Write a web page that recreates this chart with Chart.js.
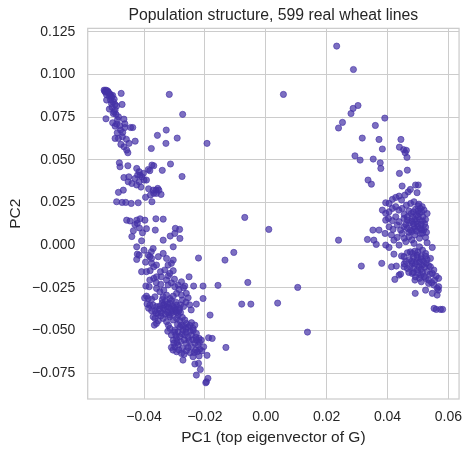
<!DOCTYPE html>
<html>
<head>
<meta charset="utf-8">
<script src="https://cdn.jsdelivr.net/npm/chart.js@4"></script>
<style>
  html, body { margin: 0; padding: 0; background: #fff; }
  #wrap { width: 472px; height: 456px; }
</style>
</head>
<body>
<div id="wrap"><canvas id="grafico" width="472" height="456"></canvas></div>
<script>
// PC1 / PC2 scores, in three groups
const leftPC1 = [
  -0.0531, -0.0525, -0.0520, -0.0527, -0.0516, -0.0512, -0.0503, -0.0523, -0.0506, -0.0475,
  -0.0523, -0.0510, -0.0501, -0.0495, -0.0472, -0.0514, -0.0505, -0.0495, -0.0501, -0.0525,
  -0.0492, -0.0484, -0.0466, -0.0503, -0.0490, -0.0495, -0.0463, -0.0477, -0.0463, -0.0444,
  -0.0437, -0.0488, -0.0495, -0.0484, -0.0471, -0.0449, -0.0429, -0.0466, -0.0457, -0.0453,
  -0.0481, -0.0479, -0.0453, -0.0424, -0.0416, -0.0421, -0.0413, -0.0402, -0.0386, -0.0381,
  -0.0407, -0.0400, -0.0416, -0.0424, -0.0466, -0.0452, -0.0440, -0.0468, -0.0484, -0.0490,
  -0.0472, -0.0442, -0.0419, -0.0392, -0.0374, -0.0368, -0.0370, -0.0361, -0.0355, -0.0351,
  -0.0368, -0.0359, -0.0379, -0.0374, -0.0344, -0.0457, -0.0446, -0.0424, -0.0413, -0.0397,
  -0.0435, -0.0422, -0.0405, -0.0392, -0.0363, -0.0361, -0.0337, -0.0408, -0.0424, -0.0370,
  -0.0376, -0.0381, -0.0386, -0.0422, -0.0416, -0.0424, -0.0408, -0.0392, -0.0337, -0.0314,
  -0.0283, -0.0297, -0.0299, -0.0282, -0.0304, -0.0353, -0.0337, -0.0326, -0.0375, -0.0368,
  -0.0359, -0.0321, -0.0310, -0.0304, -0.0346, -0.0332, -0.0315, -0.0304, -0.0381, -0.0368,
  -0.0359, -0.0343, -0.0394, -0.0383, -0.0326, -0.0321, -0.0310, -0.0299, -0.0288, -0.0277,
  -0.0266, -0.0252, -0.0237, -0.0206, -0.0359, -0.0348, -0.0335, -0.0392, -0.0386, -0.0375,
  -0.0364, -0.0337, -0.0326, -0.0315, -0.0304, -0.0293, -0.0277, -0.0261, -0.0255, -0.0274,
  -0.0228, -0.0206, -0.0381, -0.0370, -0.0359, -0.0348, -0.0337, -0.0326, -0.0375, -0.0364,
  -0.0353, -0.0343, -0.0332, -0.0315, -0.0304, -0.0293, -0.0283, -0.0299, -0.0310, -0.0288,
  -0.0364, -0.0353, -0.0337, -0.0326, -0.0366, -0.0359, -0.0315, -0.0304, -0.0293, -0.0283,
  -0.0274, -0.0266, -0.0277, -0.0261, -0.0244, -0.0233, -0.0255, -0.0239, -0.0315, -0.0299,
  -0.0288, -0.0272, -0.0310, -0.0304, -0.0293, -0.0283, -0.0266, -0.0255, -0.0244, -0.0228,
  -0.0219, -0.0299, -0.0288, -0.0274, -0.0261, -0.0244, -0.0233, -0.0223, -0.0212, -0.0293,
  -0.0277, -0.0261, -0.0248, -0.0230, -0.0217, -0.0204, -0.0272, -0.0239, -0.0219, -0.0193,
  -0.0233, -0.0221, -0.0215, -0.0228, -0.0190, -0.0195, -0.0197, -0.0375,
  -0.0529, -0.0518, -0.0510, -0.0514, -0.0498, -0.0507, -0.0490, -0.0498, -0.0487, -0.0480,
  -0.0470, -0.0458, -0.0476,
  -0.0450, -0.0430, -0.0410, -0.0385, -0.0395, -0.0460, -0.0430, -0.0415, -0.0440, -0.0400,
  -0.0395, -0.0380, -0.0360, -0.0345, -0.0320, -0.0300, -0.0285, -0.0270,
  -0.0340, -0.0335, -0.0330, -0.0322, -0.0318, -0.0312, -0.0308, -0.0300, -0.0296, -0.0292,
  -0.0285, -0.0280, -0.0318, -0.0322, -0.0330, -0.0345, -0.0350, -0.0360, -0.0370, -0.0385,
  -0.0390, -0.0398, -0.0340, -0.0310, -0.0295, -0.0280, -0.0270, -0.0262, -0.0250, -0.0245,
  -0.0290, -0.0282, -0.0270, -0.0262, -0.0250, -0.0248, -0.0238, -0.0230, -0.0240, -0.0252,
  -0.0268, -0.0280, -0.0292, -0.0302, -0.0310, -0.0305, -0.0285, -0.0268, -0.0255, -0.0235,
  -0.0225, -0.0210, -0.0218, -0.0228, -0.0262, -0.0275, -0.0295, -0.0300, -0.0322, -0.0320
];
const leftPC2 = [
  0.0908, 0.0908, 0.0904, 0.0896, 0.0893, 0.0885, 0.0877, 0.0881, 0.0869, 0.0889,
  0.0850, 0.0850, 0.0840, 0.0824, 0.0824, 0.0797, 0.0807, 0.0791, 0.0771, 0.0740,
  0.0766, 0.0752, 0.0738, 0.0717, 0.0709, 0.0697, 0.0711, 0.0674, 0.0689, 0.0689,
  0.0689, 0.0658, 0.0625, 0.0625, 0.0635, 0.0596, 0.0609, 0.0576, 0.0557, 0.0541,
  0.0482, 0.0459, 0.0465, 0.0449, 0.0430, 0.0410, 0.0410, 0.0420, 0.0443, 0.0436,
  0.0400, 0.0381, 0.0371, 0.0352, 0.0396, 0.0371, 0.0361, 0.0322, 0.0309, 0.0254,
  0.0250, 0.0244, 0.0248, 0.0381, 0.0469, 0.0465, 0.0322, 0.0322, 0.0332, 0.0322,
  0.0303, 0.0303, 0.0293, 0.0254, 0.0297, 0.0146, 0.0141, 0.0146, 0.0154, 0.0146,
  0.0084, 0.0127, 0.0072, 0.0096, 0.0088, 0.0154, 0.0152, 0.0025, -0.0010, -0.0020,
  -0.0039, -0.0068, -0.0059, -0.0053, -0.0059, -0.0084, -0.0156, -0.0156, 0.0029, 0.0053,
  0.0092, 0.0098, 0.0068, 0.0039, -0.0010, -0.0068, -0.0049, -0.0078, -0.0107, -0.0127,
  -0.0117, -0.0117, -0.0107, -0.0088, -0.0156, -0.0146, -0.0166, -0.0150, -0.0205, -0.0195,
  -0.0186, -0.0186, -0.0240, -0.0244, -0.0205, -0.0234, -0.0221, -0.0244, -0.0234, -0.0215,
  -0.0240, -0.0186, -0.0240, -0.0240, -0.0254, -0.0273, -0.0264, -0.0299, -0.0313, -0.0318,
  -0.0303, -0.0303, -0.0293, -0.0313, -0.0299, -0.0283, -0.0293, -0.0283, -0.0309, -0.0322,
  -0.0346, -0.0313, -0.0352, -0.0352, -0.0361, -0.0357, -0.0371, -0.0361, -0.0385, -0.0385,
  -0.0400, -0.0396, -0.0381, -0.0342, -0.0361, -0.0352, -0.0371, -0.0391, -0.0400, -0.0410,
  -0.0430, -0.0443, -0.0430, -0.0449, -0.0469, -0.0459, -0.0420, -0.0439, -0.0430, -0.0443,
  -0.0424, -0.0439, -0.0469, -0.0459, -0.0455, -0.0469, -0.0482, -0.0488, -0.0488, -0.0498,
  -0.0508, -0.0498, -0.0527, -0.0557, -0.0547, -0.0537, -0.0527, -0.0541, -0.0527, -0.0518,
  -0.0547, -0.0596, -0.0586, -0.0605, -0.0576, -0.0596, -0.0576, -0.0586, -0.0557, -0.0625,
  -0.0635, -0.0619, -0.0631, -0.0615, -0.0611, -0.0596, -0.0674, -0.0654, -0.0650, -0.0646,
  -0.0697, -0.0693, -0.0729, -0.0762, -0.0781, -0.0801, -0.0807, -0.0078,
  0.0902, 0.0898, 0.0880, 0.0872, 0.0855, 0.0830, 0.0815, 0.0780, 0.0735, 0.0700,
  0.0660, 0.0620, 0.0590,
  0.0400, 0.0390, 0.0340, 0.0330, 0.0280, 0.0250, 0.0120, 0.0100, 0.0050, -0.0030,
  -0.0100, -0.0150, -0.0220, -0.0230, -0.0180, -0.0200, -0.0260, -0.0250,
  -0.0340, -0.0350, -0.0330, -0.0345, -0.0365, -0.0375, -0.0385, -0.0370, -0.0380, -0.0395,
  -0.0385, -0.0395, -0.0410, -0.0395, -0.0405, -0.0415, -0.0375, -0.0400, -0.0420, -0.0370,
  -0.0345, -0.0310, -0.0320, -0.0325, -0.0335, -0.0350, -0.0360, -0.0335, -0.0350, -0.0380,
  -0.0465, -0.0480, -0.0475, -0.0490, -0.0470, -0.0505, -0.0500, -0.0540, -0.0555, -0.0560,
  -0.0555, -0.0565, -0.0570, -0.0575, -0.0600, -0.0615, -0.0615, -0.0640, -0.0600, -0.0630,
  -0.0625, -0.0620, -0.0570, -0.0555, -0.0510, -0.0520, -0.0530, -0.0510, -0.0505, -0.0470
];

const rightPC1 = [
  0.0394, 0.0405, 0.0416, 0.0427, 0.0438, 0.0446, 0.0457, 0.0468, 0.0475, 0.0492,
  0.0501, 0.0497, 0.0448, 0.0383, 0.0394, 0.0405, 0.0416, 0.0427, 0.0437, 0.0448,
  0.0462, 0.0476, 0.0487, 0.0503, 0.0514, 0.0520, 0.0394, 0.0403, 0.0416, 0.0427,
  0.0438, 0.0454, 0.0465, 0.0482, 0.0495, 0.0505, 0.0516, 0.0405, 0.0418, 0.0432,
  0.0443, 0.0454, 0.0465, 0.0475, 0.0487, 0.0498, 0.0508, 0.0519, 0.0352, 0.0372,
  0.0392, 0.0413, 0.0432, 0.0448, 0.0470, 0.0490, 0.0508, 0.0525, 0.0334, 0.0355,
  0.0363, 0.0394, 0.0405, 0.0421, 0.0438, 0.0460, 0.0487, 0.0505, 0.0530, 0.0547,
  0.0421, 0.0446, 0.0454, 0.0481, 0.0497, 0.0511, 0.0525, 0.0541, 0.0413, 0.0429,
  0.0454, 0.0465, 0.0481, 0.0495, 0.0503, 0.0514, 0.0527, 0.0541, 0.0552, 0.0424,
  0.0438, 0.0443, 0.0481, 0.0492, 0.0509, 0.0525, 0.0547, 0.0560, 0.0568, 0.0511,
  0.0535, 0.0552, 0.0568, 0.0525, 0.0547, 0.0563, 0.0567, 0.0553, 0.0560, 0.0574,
  0.0581, 0.0563,
  0.0470, 0.0478, 0.0485, 0.0492, 0.0500, 0.0508, 0.0512, 0.0500, 0.0490, 0.0480,
  0.0472, 0.0485, 0.0495, 0.0505, 0.0515, 0.0522, 0.0510, 0.0500, 0.0490, 0.0480,
  0.0470, 0.0495, 0.0512, 0.0525, 0.0528, 0.0515, 0.0460, 0.0455, 0.0465, 0.0500,
  0.0525, 0.0530, 0.0505, 0.0480, 0.0455,
  0.0475, 0.0490, 0.0500, 0.0515, 0.0525, 0.0510, 0.0498, 0.0485, 0.0472, 0.0480,
  0.0492, 0.0505, 0.0518, 0.0530, 0.0535, 0.0522, 0.0510, 0.0498, 0.0486, 0.0474,
  0.0470, 0.0485, 0.0500, 0.0515, 0.0530, 0.0540, 0.0520, 0.0505, 0.0490, 0.0535,
  0.0545, 0.0555, 0.0460, 0.0465, 0.0455
];
const rightPC2 = [
  0.0248, 0.0244, 0.0268, 0.0279, 0.0287, 0.0264, 0.0293, 0.0312, 0.0326, 0.0352,
  0.0352, 0.0307, 0.0346, 0.0205, 0.0186, 0.0195, 0.0215, 0.0225, 0.0205, 0.0215,
  0.0234, 0.0244, 0.0254, 0.0240, 0.0225, 0.0205, 0.0146, 0.0156, 0.0143, 0.0166,
  0.0137, 0.0156, 0.0146, 0.0166, 0.0176, 0.0186, 0.0166, 0.0107, 0.0092, 0.0117,
  0.0088, 0.0107, 0.0098, 0.0088, 0.0107, 0.0123, 0.0098, 0.0088, 0.0088, 0.0088,
  0.0068, 0.0059, 0.0045, 0.0068, 0.0049, 0.0059, 0.0068, 0.0045, 0.0033, 0.0029,
  0.0004, 0.0000, -0.0014, 0.0029, 0.0000, 0.0020, 0.0010, -0.0010, 0.0014, -0.0014,
  -0.0053, -0.0064, -0.0068, -0.0049, -0.0059, -0.0068, -0.0049, -0.0078, -0.0127, -0.0123,
  -0.0127, -0.0137, -0.0107, -0.0098, -0.0127, -0.0117, -0.0107, -0.0127, -0.0146, -0.0201,
  -0.0176, -0.0170, -0.0166, -0.0186, -0.0176, -0.0195, -0.0166, -0.0182, -0.0195, -0.0215,
  -0.0225, -0.0234, -0.0244, -0.0264, -0.0283, -0.0293, -0.0264, -0.0371, -0.0377, -0.0377,
  -0.0377, -0.0254,
  0.0200, 0.0185, 0.0195, 0.0210, 0.0200, 0.0215, 0.0195, 0.0165, 0.0150, 0.0140,
  0.0130, 0.0125, 0.0138, 0.0150, 0.0140, 0.0125, 0.0120, 0.0108, 0.0095, 0.0080,
  0.0075, 0.0082, 0.0090, 0.0105, 0.0075, 0.0070, 0.0120, 0.0180, 0.0165, 0.0230,
  0.0150, 0.0185, 0.0040, 0.0030, 0.0040,
  -0.0040, -0.0035, -0.0040, -0.0030, -0.0065, -0.0080, -0.0075, -0.0070, -0.0085, -0.0095,
  -0.0110, -0.0100, -0.0095, -0.0085, -0.0120, -0.0130, -0.0140, -0.0145, -0.0135, -0.0125,
  -0.0160, -0.0160, -0.0165, -0.0160, -0.0155, -0.0170, -0.0185, -0.0195, -0.0205, -0.0205,
  -0.0220, -0.0205, -0.0095, -0.0045, -0.0110
];

const sparsePC1 = [
  0.0233, 0.0288, 0.0058, -0.0317, -0.0273, -0.0193, 0.0303, 0.0287, 0.0280, 0.0252,
  0.0239, 0.0391, 0.0360, 0.0317, 0.0372, 0.0383, 0.0293, 0.0310, 0.0353, 0.0376,
  0.0378, 0.0336, 0.0347, 0.0444, 0.0439, 0.0453, 0.0462, 0.0458, 0.0464, 0.0439,
  0.0465, -0.0069, 0.0010, 0.0239, 0.0314, -0.0105, -0.0134, -0.0221, -0.0157, -0.0059,
  0.0105, -0.0079, -0.0049, 0.0039, 0.0137, -0.0131, -0.0183, -0.0188, -0.0176, -0.0275,
  -0.0291, -0.0327, -0.0356, -0.0328, -0.0376, -0.0313, -0.0340, 0.0381, 0.0491
];
const sparsePC2 = [
  0.1166, 0.1029, 0.0883, 0.0883, 0.0766, 0.0596, 0.0818, 0.0801, 0.0771, 0.0719,
  0.0686, 0.0744, 0.0701, 0.0627, 0.0619, 0.0563, 0.0523, 0.0498, 0.0504, 0.0482,
  0.0449, 0.0381, 0.0357, 0.0619, 0.0574, 0.0559, 0.0555, 0.0541, 0.0514, 0.0420,
  0.0439, 0.0162, 0.0092, 0.0029, -0.0123, -0.0043, -0.0088, -0.0076, -0.0236, -0.0219,
  -0.0248, -0.0346, -0.0346, -0.0340, -0.0510, -0.0600, -0.0410, -0.0543, -0.0547, 0.0402,
  0.0627, 0.0674, 0.0643, 0.0596, 0.0566, 0.0475, 0.0438, -0.0107, -0.0283
];

const xTicks = [-0.04, -0.02, 0.00, 0.02, 0.04, 0.06];
const yTicks = [-0.075, -0.050, -0.025, 0.000, 0.025, 0.050, 0.075, 0.100, 0.125];

const FONT = '"Liberation Sans", Arial, sans-serif';
const INK = '#262626';
const GRID = '#cccccc';
const DOT = 'rgba(68, 50, 166, 0.7)';

function pares(xs, ys) {
  return xs.map((x, i) => ({ x: x, y: ys[i] }));
}

function rotulo(v, casas) {
  if (Math.abs(v) < 1e-9) v = 0;
  return v.toFixed(casas).replace('-', '\u2212');
}

// frame around the plot area, like the seaborn whitegrid spines
const moldura = {
  id: 'moldura',
  beforeDatasetsDraw(chart) {
    const a = chart.chartArea;
    const ctx = chart.ctx;
    ctx.save();
    ctx.strokeStyle = GRID;
    ctx.lineWidth = 1.25;
    ctx.strokeRect(a.left, a.top, a.right - a.left, a.bottom - a.top);
    ctx.restore();
  }
};

const estiloPonto = {
  backgroundColor: DOT,
  borderColor: DOT,
  borderWidth: 0.9,
  pointRadius: 3.1,
  pointHoverRadius: 3.1
};

const ctx = document.getElementById('grafico').getContext('2d');
new Chart(ctx, {
  type: 'scatter',
  data: {
    datasets: [
      Object.assign({ label: 'left', data: pares(leftPC1, leftPC2) }, estiloPonto),
      Object.assign({ label: 'right', data: pares(rightPC1, rightPC2) }, estiloPonto),
      Object.assign({ label: 'sparse', data: pares(sparsePC1, sparsePC2) }, estiloPonto)
    ]
  },
  options: {
    responsive: false,
    animation: false,
    layout: { padding: { left: 0, right: 11.7, top: 0, bottom: 0 } },
    plugins: {
      legend: { display: false },
      tooltip: { enabled: false },
      title: {
        display: true,
        fullSize: false,
        text: 'Population structure, 599 real wheat lines',
        color: INK,
        font: { family: FONT, size: 15.8, weight: 'normal' },
        padding: { top: 6.2, bottom: 3.2 }
      }
    },
    scales: {
      x: {
        type: 'linear',
        min: -0.0585,
        max: 0.0635,
        afterFit(s) { s.height = 57; },
        afterBuildTicks(s) { s.ticks = xTicks.map(v => ({ value: v })); },
        ticks: {
          color: INK,
          font: { family: FONT, size: 14 },
          padding: 9.6,
          callback: v => rotulo(v, 2)
        },
        grid: { color: GRID, lineWidth: 1, drawTicks: false },
        border: { display: false },
        title: {
          display: true,
          text: 'PC1 (top eigenvector of G)',
          color: INK,
          font: { family: FONT, size: 15.5 },
          padding: { top: 4, bottom: 9.4 }
        }
      },
      y: {
        type: 'linear',
        min: -0.0902,
        max: 0.127,
        afterFit(s) { s.width = 87.7; },
        afterBuildTicks(s) { s.ticks = yTicks.map(v => ({ value: v })); },
        ticks: {
          color: INK,
          font: { family: FONT, size: 14 },
          padding: 12.4,
          callback: v => rotulo(v, 3)
        },
        grid: { color: GRID, lineWidth: 1, drawTicks: false },
        border: { display: false },
        title: {
          display: true,
          text: 'PC2',
          color: INK,
          font: { family: FONT, size: 15.5 },
          padding: { top: 6.7, bottom: 4 }
        }
      }
    }
  },
  plugins: [moldura]
});
</script>
</body>
</html>
